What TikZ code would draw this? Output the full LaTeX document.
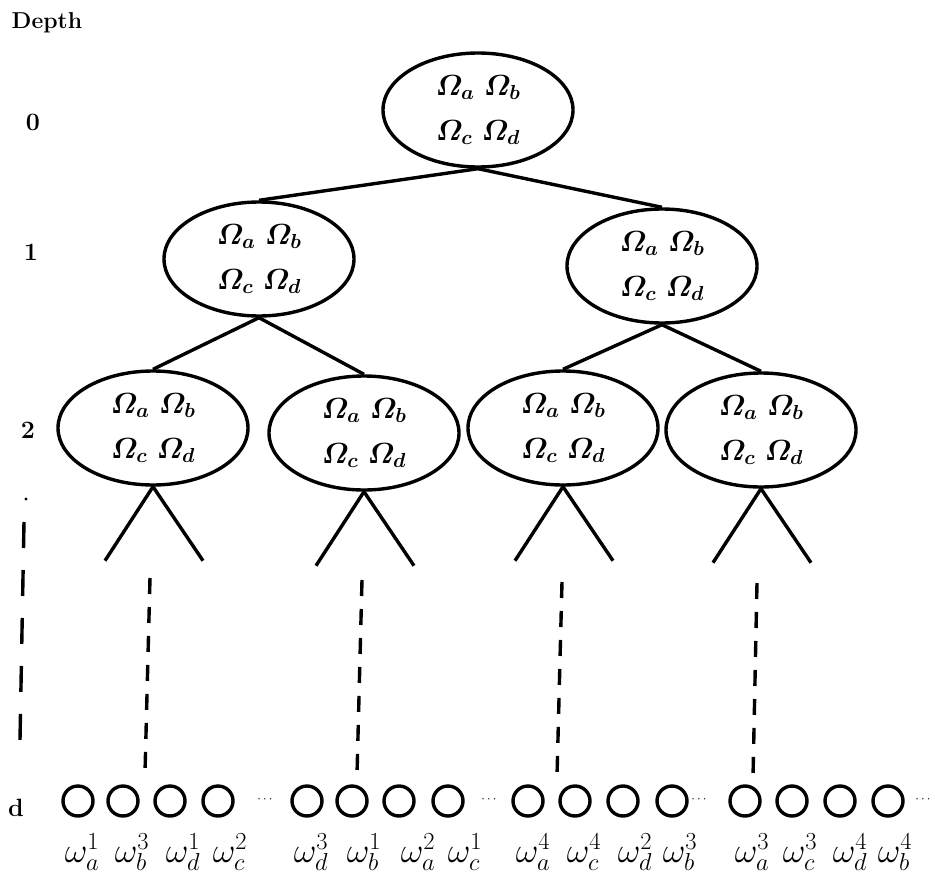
\RequirePackage{fix-cm}
\documentclass[tikz,border=0pt]{standalone}
\usepackage{amsmath}
\usetikzlibrary{shapes.geometric}
\begin{document}
\begin{tikzpicture}[x=1pt,y=-1pt,line width=3.4pt,
  setnode/.style={draw,ellipse,minimum width=190pt,minimum height=114pt,inner sep=0pt,
    align=center,font=\fontsize{29}{45}\selectfont\boldmath},
  leaf/.style={draw,circle,minimum size=30pt,inner sep=0pt},
  wlab/.style={anchor=base,inner sep=0pt,font=\fontsize{35}{40}\selectfont},
  deplab/.style={inner sep=0pt,font=\fontsize{23}{28}\selectfont\bfseries},
  dots/.style={inner sep=0pt,font=\fontsize{13}{14}\selectfont},
  gap/.style={dash pattern=on 16pt off 13pt}]
\useasboundingbox (0,0) rectangle (935,886);

% Drawing depth scale
\node[deplab,anchor=base west] (dhead) at (10,28) {Depth};
\node[deplab,font=\fontsize{25}{28}\selectfont\bfseries] (d0) at (33,122) {0};
\node[deplab,font=\fontsize{25}{28}\selectfont\bfseries] (d1) at (31,252) {1};
\node[deplab,font=\fontsize{25}{28}\selectfont\bfseries] (d2) at (28,430) {2};
\node[deplab,font=\fontsize{25}{28}\selectfont\bfseries] (dd) at (16,808) {d};
\fill (26,499) circle (1.7pt);
\coordinate (dtop) at (24,522);
\coordinate (dbot) at (20,740);
\draw[dash pattern=on 26pt off 22pt] (dtop) -- (dbot);

% Drawing tree nodes
\newcommand{\omset}{$\varOmega_a\;\varOmega_b$\\$\varOmega_c\;\varOmega_d$}
\node[setnode] (root) at (478,110) {\omset};
\node[setnode] (l) at (259,259) {\omset};
\node[setnode] (r) at (662,266) {\omset};
\node[setnode] (ll) at (153,428) {\omset};
\node[setnode] (lr) at (364,433) {\omset};
\node[setnode] (rl) at (563,428) {\omset};
\node[setnode] (rr) at (761,430) {\omset};

% Drawing edges
\draw (root.south) -- (l.north);
\draw (root.south) -- (r.north);
\draw (l.south) -- (ll.north);
\draw (l.south) -- (lr.north);
\draw (r.south) -- (rl.north);
\draw (r.south) -- (rr.north);

% Drawing open branches and dashed paths
\foreach \n/\tx/\ty/\bx/\by in {ll/150/578/145/773, lr/362/580/357/775, rl/562/582/557/777, rr/757/583/753/778}{
  \coordinate (\n-fl) at ([shift={(-48,74)}]\n.south);
  \coordinate (\n-fr) at ([shift={(50,74)}]\n.south);
  \draw (\n-fl) -- (\n.south) -- (\n-fr);
  \coordinate (\n-dt) at (\tx,\ty);
  \coordinate (\n-db) at (\bx,\by);
  \draw[gap] (\n-dt) -- (\n-db);
}

% Drawing leaves
\foreach \x [count=\i] in {78,123,170,218,307,352,399,448,528,575,623,672,745,792,840,888}
  \node[leaf] (c\i) at (\x,801) {};
\foreach \x/\s/\t [count=\i] in {82/a/1,132/b/3,183/d/1,230/c/2,311/d/3,364/b/1,418/a/2,465/c/1,
    533/a/4,584/c/4,635/d/2,680/b/3,752/a/3,800/c/3,850/d/4,895/b/4}
  \node[wlab] (w\i) at (\x,862) {$\omega_{\s}^{\t}$};
\foreach \x [count=\i] in {266,490,700,924}
  \node[dots] (dt\i) at (\x,800) {$\cdots$};
\end{tikzpicture}
\end{document}
